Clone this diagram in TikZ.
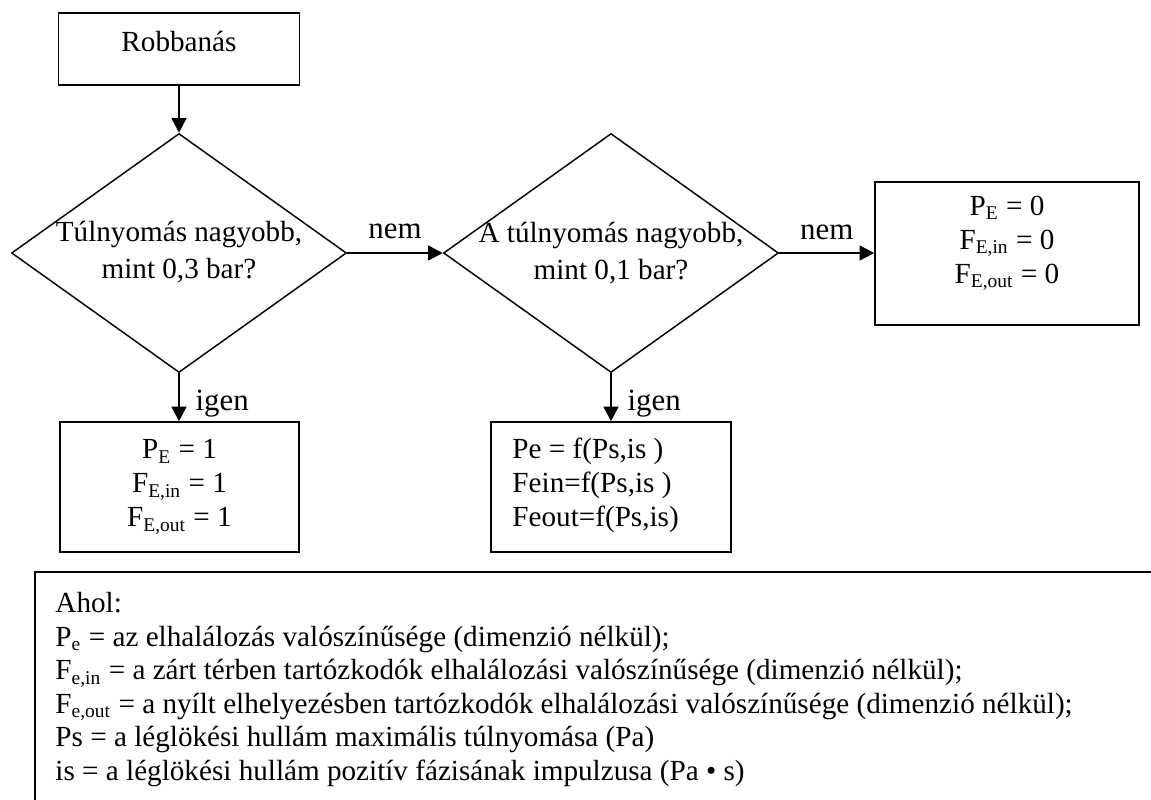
\documentclass[tikz,border=0pt]{standalone}
\usepackage{fontspec}
\setmainfont{Liberation Serif}
\usetikzlibrary{shapes.geometric,arrows.meta}

\newcommand{\px}{0.4115pt}

\begin{document}
\begin{tikzpicture}[x=\px,y=-\px,
    font=\fontsize{12}{14}\selectfont,
    box/.style={draw,line width=0.6pt,inner sep=0pt,align=center},
    dec/.style={draw,diamond,line width=0.6pt,inner sep=0pt,
      minimum width=335*\px,minimum height=239*\px},
    flow/.style={-{Triangle[length=6pt,width=6pt]},line width=1pt},
    lbl/.style={font=\fontsize{12.7}{15}\selectfont}]
  \useasboundingbox (0,0) rectangle (1151,800);
  % flowchart
  \node[box,minimum width=241*\px,minimum height=72*\px] (start) at (179,49) {};
  \node (starttxt) at (179,42) {Robbanás};
  \node[dec] (q1) at (179,253) {};
  \node[align=center,font=\fontsize{12}{15.2}\selectfont] (q1txt) at (179,252)
    {Túlnyomás nagyobb,\\mint 0,3 bar?};
  \node[dec] (q2) at (611,253) {};
  \node[align=center,font=\fontsize{12}{15.2}\selectfont] (q2txt) at (611,253.5)
    {A túlnyomás nagyobb,\\mint 0,1 bar?};
  \node[box,minimum width=264*\px,minimum height=143*\px] (zero) at (1007,253.5) {};
  \node[align=center] (zerotxt) at (1007,243.5)
    {P\textsubscript{E} = 0\\F\textsubscript{E,in} = 0\\F\textsubscript{E,out} = 0};
  \node[box,minimum width=239*\px,minimum height=130*\px] (one) at (179.5,487)
    {P\textsubscript{E} = 1\\F\textsubscript{E,in} = 1\\F\textsubscript{E,out} = 1};
  \node[box,minimum width=240*\px,minimum height=130*\px] (func) at (611,487) {};
  \node[align=left,anchor=west,inner sep=0pt] (functxt) at (512,485)
    {Pe = f(Ps,is )\\Fein=f(Ps,is )\\Feout=f(Ps,is)};

  \draw[flow] (start.south) -- (q1.north);
  \draw[flow] (q1.east) -- (q2.west) node[lbl,midway,above=2pt] {nem};
  \draw[flow] (q2.east) -- (q2.east -| zero.west) node[lbl,midway,above=1.5pt] {nem};
  \draw[flow] (q1.south) -- (q1.south |- one.north) node[lbl,pos=0.63,right=3pt] {igen};
  \draw[flow] (q2.south) -- (q2.south |- func.north) node[lbl,pos=0.63,right=3pt] {igen};

  % legend
  \coordinate (legtl) at (35,572);
  \draw[line width=0.9pt] (35,800) -- (legtl) -- (1151,572);
  \node[anchor=north west,align=left,inner sep=0pt,
    font=\fontsize{12}{13.8}\selectfont] (legend) at (55,592)
    {Ahol:\\
     P\textsubscript{e} = az elhalálozás valószínűsége (dimenzió nélkül);\\
     F\textsubscript{e,in} = a zárt térben tartózkodók elhalálozási valószínűsége (dimenzió nélkül);\\
     F\textsubscript{e,out} = a nyílt elhelyezésben tartózkodók elhalálozási valószínűsége (dimenzió nélkül);\\
     Ps = a léglökési hullám maximális túlnyomása (Pa)\\
     is = a léglökési hullám pozitív fázisának impulzusa (Pa • s)};
\end{tikzpicture}
\end{document}
